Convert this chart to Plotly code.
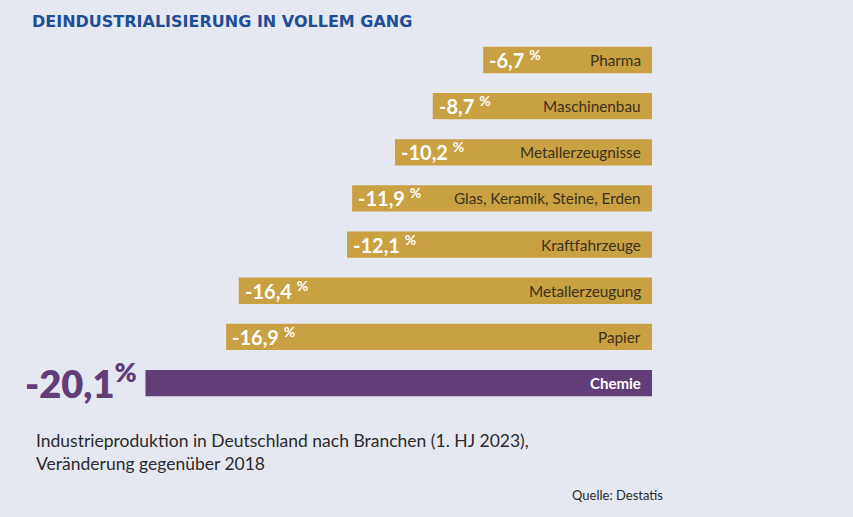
import plotly.graph_objects as go

categories = ["Pharma", "Maschinenbau", "Metallerzeugnisse", "Glas, Keramik, Steine, Erden",
              "Kraftfahrzeuge", "Metallerzeugung", "Papier", "Chemie"]
values = [-6.7, -8.7, -10.2, -11.9, -12.1, -16.4, -16.9, -20.1]
value_labels = ["-6,7", "-8,7", "-10,2", "-11,9", "-12,1", "-16,4", "-16,9", "-20,1"]

GOLD = "#c9a042"
PURPLE = "#623e78"
BG = "#e6e8f1"
FONT = "Lato"

colors = [PURPLE if c == "Chemie" else GOLD for c in categories]

fig = go.Figure(go.Bar(
    x=values, y=categories, orientation="h",
    marker=dict(color=colors, line=dict(width=0)),
    width=0.57, hoverinfo="skip",
))

annotations = []
for cat, v, lab in zip(categories, values, value_labels):
    if cat == "Chemie":
        annotations.append(dict(x=v, y=cat, xref="x", yref="y", xanchor="right", yanchor="middle",
                                xshift=-6, yshift=2, showarrow=False,
                                text=f"{lab}<sup>%</sup>",
                                font=dict(family=FONT, size=38, color=PURPLE, weight=800)))
        annotations.append(dict(x=0, y=cat, xref="x", yref="y", xanchor="right", yanchor="middle",
                                xshift=-9, showarrow=False, text=cat,
                                font=dict(family=FONT, size=15, color="white", weight="bold")))
    else:
        annotations.append(dict(x=v, y=cat, xref="x", yref="y", xanchor="left", yanchor="middle",
                                xshift=4, yshift=1, showarrow=False,
                                text=f"{lab} <sup>%</sup>",
                                font=dict(family=FONT, size=20, color="white", weight="bold")))
        annotations.append(dict(x=0, y=cat, xref="x", yref="y", xanchor="right", yanchor="middle",
                                xshift=-9, showarrow=False, text=cat,
                                font=dict(family=FONT, size=15.3, color="#3a321f")))

W, H = 853, 517
extra = [
    dict(x=30, y=22, xanchor="left", yanchor="middle",
         text="DEINDUSTRIALISIERUNG IN VOLLEM GANG",
         font=dict(family="DejaVu Sans", size=16, color="#1f4e96", weight="bold")),
    dict(x=34, y=452, xanchor="left", yanchor="middle", align="left",
         text="Industrieproduktion in Deutschland nach Branchen (1. HJ 2023),<br>Veränderung gegenüber 2018",
         font=dict(family=FONT, size=17.5, color="#2b2b2b")),
    dict(x=570, y=495, xanchor="left", yanchor="middle",
         text="Quelle: Destatis", font=dict(family=FONT, size=13, color="#2b2b2b")),
]
for a in extra:
    a.update(xref="paper", yref="paper", showarrow=False, x=a["x"] / W, y=1 - a["y"] / H)
annotations += extra

px_per_unit = 25.2
zero_px = 652
row0 = 60
row_step = 46.15

hidden = dict(showticklabels=False, showgrid=False, zeroline=False, showline=False, ticks="", fixedrange=True)
fig.update_layout(
    width=W, height=H,
    margin=dict(l=0, r=0, t=0, b=0),
    paper_bgcolor=BG, plot_bgcolor=BG,
    showlegend=False,
    xaxis=dict(range=[-zero_px / px_per_unit, (W - zero_px) / px_per_unit], **hidden),
    yaxis=dict(range=[(H - row0) / row_step, -row0 / row_step],
               categoryorder="array", categoryarray=categories, **hidden),
    annotations=annotations,
)

fig.write_html("out.html", config={"displayModeBar": False},
               post_script="document.body.style.margin='0';document.body.style.overflow='hidden';")
